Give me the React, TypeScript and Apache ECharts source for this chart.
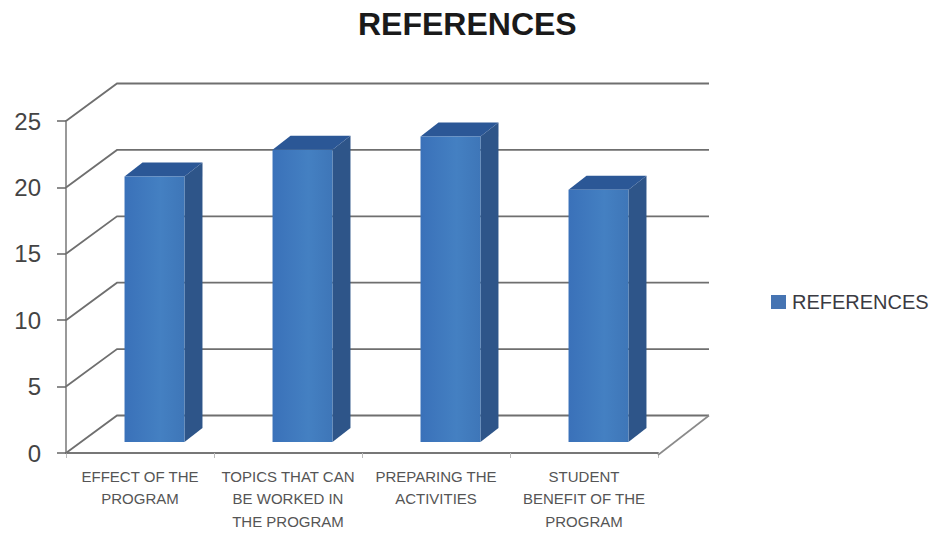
import React, { useEffect, useRef } from "react";
import * as echarts from "echarts";

const titleText = "REFERENCES";
const categories = [
  "EFFECT OF THE\nPROGRAM",
  "TOPICS THAT CAN\nBE WORKED IN\nTHE PROGRAM",
  "PREPARING THE\nACTIVITIES",
  "STUDENT\nBENEFIT OF THE\nPROGRAM",
];
const values = [20, 22, 23, 19];
const yTicks = [0, 5, 10, 15, 20, 25];

const DEPTH_X = 51;
const DEPTH_Y = 37.5;
const BAR_SHIFT_X = 14.5;
const BAR_SHIFT_Y = 11;
const BAR_DEPTH_X = 18;
const BAR_DEPTH_Y = 14;
const FONT = "'Liberation Sans', Arial, sans-serif";

export default function App() {
  const ref = useRef<HTMLDivElement>(null);

  useEffect(() => {
    const chart = echarts.init(ref.current!, undefined, { renderer: "svg" });

    const renderWall = (params: any, api: any) => {
      const v = api.value(1);
      const cs = params.coordSys;
      const y = api.coord([0, v])[1];
      const x0 = cs.x;
      const x1 = cs.x + cs.width;
      const backY = y - DEPTH_Y;
      const children: any[] = [
        {
          type: "polyline",
          shape: {
            points: [
              [x0, y],
              [x0 + DEPTH_X, backY],
              [x1 + DEPTH_X, backY],
            ],
          },
          style: { stroke: "#6f6f6f", lineWidth: 1.8, fill: "none" },
        },
      ];
      if (v === 0) {
        children.push({
          type: "line",
          shape: { x1: x1 + DEPTH_X, y1: backY, x2: x1, y2: y + 2 },
          style: { stroke: "#8a8a8a", lineWidth: 1.6 },
        });
      }
      return { type: "group", children };
    };

    const renderBar = (_params: any, api: any) => {
      const top = api.coord([api.value(0), api.value(1)]);
      const base = api.coord([api.value(0), 0]);
      const width = api.size([1, 0])[0] * 0.405;
      const l = top[0] - width / 2 + BAR_SHIFT_X;
      const r = l + width;
      const t = top[1] - BAR_SHIFT_Y;
      const b = base[1] - BAR_SHIFT_Y;
      const dx = BAR_DEPTH_X;
      const dy = BAR_DEPTH_Y;
      return {
        type: "group",
        children: [
          {
            type: "polygon",
            shape: { points: [[r, t], [r + dx, t - dy], [r + dx, b - dy], [r, b]] },
            style: { fill: "#2e5589" },
          },
          {
            type: "polygon",
            shape: { points: [[l, t], [l + dx, t - dy], [r + dx, t - dy], [r, t]] },
            style: { fill: "#2b5796" },
          },
          {
            type: "rect",
            shape: { x: l, y: t, width, height: b - t },
            style: {
              fill: new echarts.graphic.LinearGradient(0, 0, 1, 0, [
                { offset: 0, color: "#3a71b9" },
                { offset: 0.6, color: "#4480c2" },
                { offset: 1, color: "#3e76b8" },
              ]),
            },
          },
        ],
      };
    };

    chart.setOption({
      animation: false,
      backgroundColor: "#ffffff",
      title: {
        text: titleText,
        left: 358,
        top: 8,
        padding: 0,
        textStyle: { fontFamily: FONT, fontSize: 32, fontWeight: "bold", color: "#1a1a1a" },
      },
      legend: {
        data: ["REFERENCES"],
        left: 771,
        top: 292,
        padding: 0,
        icon: "rect",
        itemWidth: 15,
        itemHeight: 14,
        textStyle: { fontFamily: FONT, fontSize: 20, color: "#3a3a42", padding: [0, 0, 0, 1] },
      },
      grid: { left: 66, top: 121, width: 592, height: 332, outerBoundsMode: "none" },
      xAxis: {
        type: "category",
        data: categories,
        offset: 2,
        axisLine: { show: true, lineStyle: { color: "#777777", width: 2 } },
        axisTick: { show: true, length: 5, lineStyle: { color: "#bbbbbb" } },
        axisLabel: {
          interval: 0,
          margin: 10,
          fontFamily: FONT,
          fontSize: 15,
          lineHeight: 22.5,
          color: "#555555",
        },
      },
      yAxis: {
        type: "value",
        min: 0,
        max: 25,
        interval: 5,
        splitLine: { show: false },
        axisLine: { show: true, lineStyle: { color: "#999999", width: 2 } },
        axisTick: { show: true, length: 9, lineStyle: { color: "#666666", width: 1.5 } },
        axisLabel: {
          margin: 25,
          fontFamily: FONT,
          fontSize: 24,
          color: "#444444",
          padding: [3, 0, 0, 0],
        },
      },
      series: [
        {
          name: "walls",
          type: "custom",
          silent: true,
          z: 1,
          clip: false,
          renderItem: renderWall,
          encode: { x: 0, y: 1 },
          data: yTicks.map((v) => [0, v]),
        },
        {
          name: "REFERENCES",
          type: "custom",
          z: 3,
          clip: false,
          itemStyle: { color: "#4674b2" },
          renderItem: renderBar,
          encode: { x: 0, y: 1 },
          data: values.map((v, i) => [i, v]),
        },
      ],
    });

    return () => chart.dispose();
  }, []);

  return (
    <div
      ref={ref}
      style={{ position: "absolute", left: 0, top: 0, width: 931, height: 533 }}
    />
  );
}
